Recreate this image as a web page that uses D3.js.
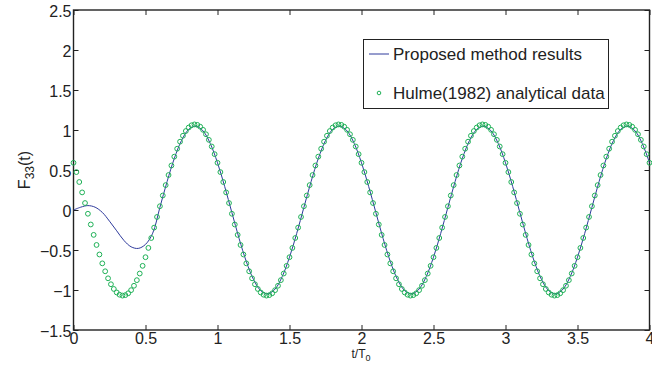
<!DOCTYPE html>
<html>
<head>
<meta charset="utf-8">
<script src="https://cdn.jsdelivr.net/npm/d3@7"></script>
<style>
  body { margin: 0; background: #fff; }
  svg text { font-family: "Liberation Sans", Arial, sans-serif; }
</style>
</head>
<body>
<div id="chart"></div>
<script>
// proposed method, sampled every 0.05 t/T0
const proposedStep = 0.05
const proposed = [
  0.000, 0.035, 0.055, 0.035, -0.030, -0.140, -0.260, -0.380, -0.460, -0.480,
  -0.430, -0.290,
  0.033, 0.356, 0.644, 0.868, 1.008, 1.049, 0.988, 0.830, 0.590, 0.293,
  -0.033, -0.356, -0.644, -0.868, -1.008, -1.049, -0.988, -0.830, -0.590, -0.293,
  0.033, 0.356, 0.644, 0.868, 1.008, 1.049, 0.988, 0.830, 0.590, 0.293,
  -0.033, -0.356, -0.644, -0.868, -1.008, -1.049, -0.988, -0.830, -0.590, -0.293,
  0.033, 0.356, 0.644, 0.868, 1.008, 1.049, 0.988, 0.830, 0.590, 0.293,
  -0.033, -0.356, -0.644, -0.868, -1.008, -1.049, -0.988, -0.830, -0.590, -0.293,
  0.033, 0.356, 0.644, 0.868, 1.008, 1.049, 0.988, 0.830, 0.590
]

// Hulme (1982) analytical points, every 0.02 t/T0
const hulmeStep = 0.02
const hulme = [
  0.590, 0.474, 0.350, 0.220, 0.087, -0.047, -0.181, -0.311, -0.437, -0.556,
  -0.667, -0.766, -0.854, -0.928, -0.987, -1.031, -1.059, -1.070, -1.064, -1.041,
  -1.002, -0.947, -0.877, -0.794, -0.698, -0.590, -0.474, -0.350, -0.220, -0.087,
  0.047, 0.181, 0.311, 0.437, 0.556, 0.667, 0.766, 0.854, 0.928, 0.987,
  1.031, 1.059, 1.070, 1.064, 1.041, 1.002, 0.947, 0.877, 0.794, 0.698,
  0.590, 0.474, 0.350, 0.220, 0.087, -0.047, -0.181, -0.311, -0.437, -0.556,
  -0.667, -0.766, -0.854, -0.928, -0.987, -1.031, -1.059, -1.070, -1.064, -1.041,
  -1.002, -0.947, -0.877, -0.794, -0.698, -0.590, -0.474, -0.350, -0.220, -0.087,
  0.047, 0.181, 0.311, 0.437, 0.556, 0.667, 0.766, 0.854, 0.928, 0.987,
  1.031, 1.059, 1.070, 1.064, 1.041, 1.002, 0.947, 0.877, 0.794, 0.698,
  0.590, 0.474, 0.350, 0.220, 0.087, -0.047, -0.181, -0.311, -0.437, -0.556,
  -0.667, -0.766, -0.854, -0.928, -0.987, -1.031, -1.059, -1.070, -1.064, -1.041,
  -1.002, -0.947, -0.877, -0.794, -0.698, -0.590, -0.474, -0.350, -0.220, -0.087,
  0.047, 0.181, 0.311, 0.437, 0.556, 0.667, 0.766, 0.854, 0.928, 0.987,
  1.031, 1.059, 1.070, 1.064, 1.041, 1.002, 0.947, 0.877, 0.794, 0.698,
  0.590, 0.474, 0.350, 0.220, 0.087, -0.047, -0.181, -0.311, -0.437, -0.556,
  -0.667, -0.766, -0.854, -0.928, -0.987, -1.031, -1.059, -1.070, -1.064, -1.041,
  -1.002, -0.947, -0.877, -0.794, -0.698, -0.590, -0.474, -0.350, -0.220, -0.087,
  0.047, 0.181, 0.311, 0.437, 0.556, 0.667, 0.766, 0.854, 0.928, 0.987,
  1.031, 1.059, 1.070, 1.064, 1.041, 1.002, 0.947, 0.877, 0.794, 0.698,
  0.590
]

const xTicks = [0, 0.5, 1, 1.5, 2, 2.5, 3, 3.5, 4]
const yTicks = [-1.5, -1, -0.5, 0, 0.5, 1, 1.5, 2, 2.5]
const legendLabels = ["Proposed method results", "Hulme(1982) analytical data"]

const width = 652
const height = 373
const margin = {top: 10, right: 2.5, bottom: 43, left: 73.5}

const lineColor = "#2e3a9c"
const dotColor = "#1fb157"

const svg = d3.select("#chart").append("svg")
  .attr("width", width)
  .attr("height", height)

const x = d3.scaleLinear()
  .domain([0, 4])
  .range([margin.left, width - margin.right])
const y = d3.scaleLinear()
  .domain([-1.5, 2.5])
  .range([height - margin.bottom, margin.top])

const fmt = d3.format("~g")

// bottom axis, ticks pointing in
const gx = svg.append("g")
  .attr("transform", `translate(0,${y(-1.5)})`)
  .call(d3.axisBottom(x).tickValues(xTicks).tickFormat(fmt).tickSizeInner(-5).tickSizeOuter(0).tickPadding(3))
// top axis, no labels
const gxt = svg.append("g")
  .attr("transform", `translate(0,${y(2.5)})`)
  .call(d3.axisTop(x).tickValues(xTicks).tickFormat("").tickSizeInner(-5).tickSizeOuter(0))
// left axis
const gy = svg.append("g")
  .attr("transform", `translate(${x(0)},0)`)
  .call(d3.axisLeft(y).tickValues(yTicks).tickFormat(fmt).tickSizeInner(-5).tickSizeOuter(0).tickPadding(2))
// right axis
const gyr = svg.append("g")
  .attr("transform", `translate(${x(4)},0)`)
  .call(d3.axisRight(y).tickValues(yTicks).tickFormat("").tickSizeInner(-5).tickSizeOuter(0))

svg.selectAll(".domain").remove()
svg.selectAll(".tick line").attr("stroke", "#222").attr("stroke-width", 1)
svg.selectAll(".tick text").attr("font-size", 16).attr("fill", "#222")
gy.selectAll(".tick text").attr("dy", "0.42em")

svg.append("rect")
  .attr("x", x(0))
  .attr("y", y(2.5))
  .attr("width", x(4) - x(0))
  .attr("height", y(-1.5) - y(2.5))
  .attr("fill", "none")
  .attr("stroke", "#222")
  .attr("stroke-width", 1.4)

// proposed method line
const line = d3.line()
  .x((d, i) => x(i * proposedStep))
  .y(d => y(d))
  .curve(d3.curveCatmullRom.alpha(0.5))

svg.append("path")
  .datum(proposed)
  .attr("fill", "none")
  .attr("stroke", lineColor)
  .attr("stroke-width", 1)
  .attr("d", line)

// analytical points
svg.append("g")
  .selectAll("circle")
  .data(hulme)
  .enter().append("circle")
  .attr("cx", (d, i) => x(i * hulmeStep))
  .attr("cy", d => y(d))
  .attr("r", 2.4)
  .attr("fill", "none")
  .attr("stroke", dotColor)
  .attr("stroke-width", 1)

// axis titles
const xl = svg.append("text")
  .attr("x", x(2) - 10)
  .attr("y", 358)
  .attr("font-size", 12)
  .attr("fill", "#222")
xl.append("tspan").text("t/T")
xl.append("tspan").attr("font-size", 9).attr("dy", 3).text("0")

const yl = svg.append("text")
  .attr("transform", `translate(30,${y(0.5)}) rotate(-90)`)
  .attr("text-anchor", "middle")
  .attr("font-size", 16)
  .attr("fill", "#222")
yl.append("tspan").text("F")
yl.append("tspan").attr("font-size", 12).attr("dy", 4).text("33")
yl.append("tspan").attr("dy", -4).text("(t)")

// legend
const lg = svg.append("g")
lg.append("rect")
  .attr("x", 363.5)
  .attr("y", 39.5)
  .attr("width", 245)
  .attr("height", 69)
  .attr("fill", "#fff")
  .attr("stroke", "#222")
  .attr("stroke-width", 1)
lg.append("line")
  .attr("x1", 369).attr("x2", 389)
  .attr("y1", 54).attr("y2", 54)
  .attr("stroke", lineColor)
lg.append("circle")
  .attr("cx", 379).attr("cy", 93)
  .attr("r", 1.8)
  .attr("fill", "none")
  .attr("stroke", dotColor)
lg.selectAll("text.lab")
  .data(legendLabels)
  .enter().append("text")
  .attr("class", "lab")
  .attr("x", 393)
  .attr("y", (d, i) => 54 + i * 39)
  .attr("dy", "0.36em")
  .attr("font-size", 17)
  .attr("fill", "#222")
  .text(d => d)
</script>
</body>
</html>
